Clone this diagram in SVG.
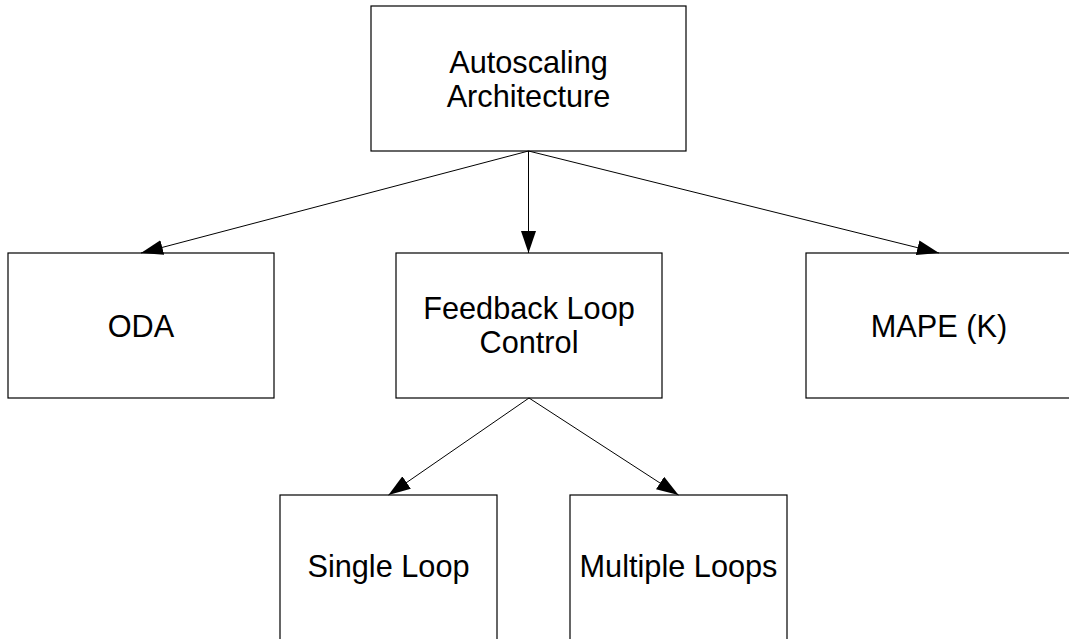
<svg xmlns="http://www.w3.org/2000/svg" width="1069" height="639" viewBox="0 0 1069 639">
  <defs>
    <style>
      .box { fill: #ffffff; stroke: #000000; stroke-width: 1.2; }
      .lbl { font-family: "Liberation Sans", Arial, sans-serif; font-size: 30.7px; fill: #000000; text-anchor: middle; }
      .edge { stroke: #000000; stroke-width: 1; fill: none; marker-end: url(#arrow); }
    </style>
    <marker id="arrow" markerUnits="userSpaceOnUse" markerWidth="22" markerHeight="15" refX="22" refY="7.5" orient="auto" viewBox="0 0 22 15">
      <path d="M0,0 L22,7.5 L0,15 Z" fill="#000000"/>
    </marker>
  </defs>
  <rect width="1069" height="639" fill="#ffffff"/>

  <g id="node-autoscaling">
    <rect class="box" x="371" y="6" width="315" height="145"/>
    <text class="lbl" x="528.5" y="73">Autoscaling</text>
    <text class="lbl" x="528.5" y="107">Architecture</text>
  </g>

  <g id="node-oda">
    <rect class="box" x="8" y="253" width="266" height="145"/>
    <text class="lbl" x="141" y="337">ODA</text>
  </g>

  <g id="node-feedback">
    <rect class="box" x="396" y="253" width="266" height="145"/>
    <text class="lbl" x="529" y="319">Feedback Loop</text>
    <text class="lbl" x="529" y="353">Control</text>
  </g>

  <g id="node-mape">
    <rect class="box" x="806" y="253" width="266" height="145"/>
    <text class="lbl" x="939" y="337">MAPE (K)</text>
  </g>

  <g id="node-single">
    <rect class="box" x="280" y="495" width="217" height="146"/>
    <text class="lbl" x="388.5" y="577">Single Loop</text>
  </g>

  <g id="node-multiple">
    <rect class="box" x="570" y="495" width="217" height="146"/>
    <text class="lbl" x="678.5" y="577">Multiple Loops</text>
  </g>

  <g id="connectors">
    <line class="edge" x1="528.5" y1="151" x2="141" y2="253"/>
    <line class="edge" x1="528.5" y1="151" x2="528.5" y2="253"/>
    <line class="edge" x1="528.5" y1="151" x2="939" y2="253"/>
    <line class="edge" x1="529" y1="398" x2="388.5" y2="495"/>
    <line class="edge" x1="529" y1="398" x2="678.5" y2="495"/>
  </g>
</svg>
